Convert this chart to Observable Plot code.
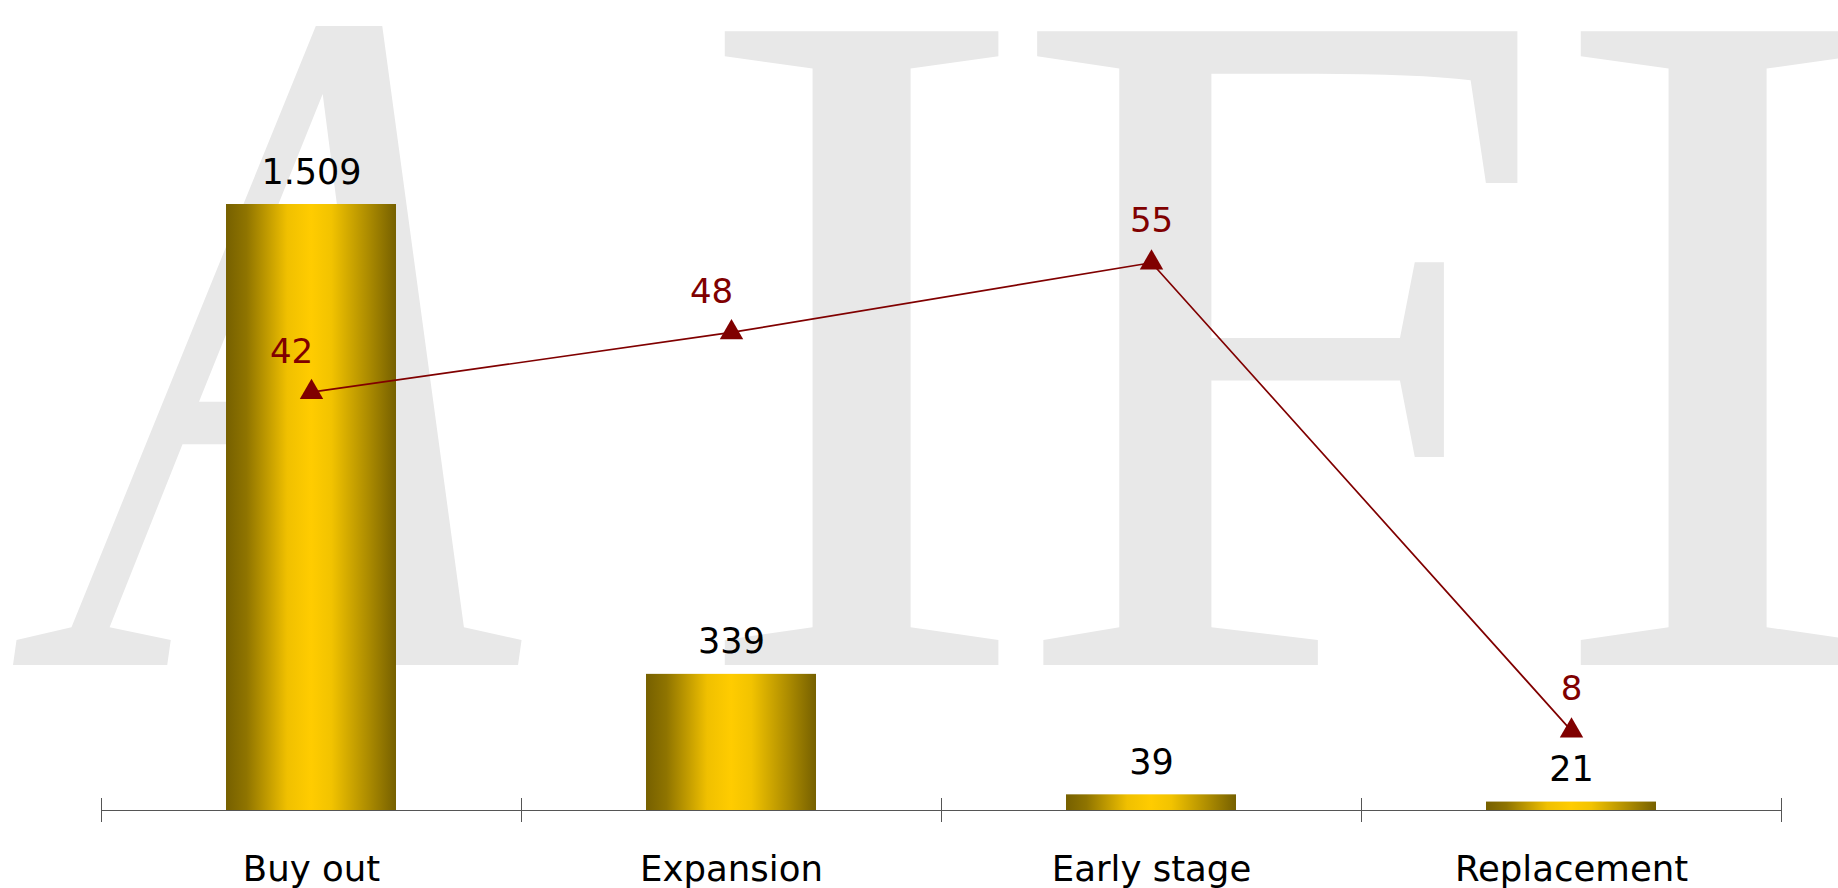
<!DOCTYPE html>
<html><head><meta charset="utf-8">
<script src="https://cdn.jsdelivr.net/npm/d3@7"></script>
<script src="https://cdn.jsdelivr.net/npm/@observablehq/plot@0.6"></script>
<style>
body{margin:0;background:#fff;}
#wrap{position:relative;width:1838px;height:888px;overflow:hidden;background:#fff;}
#wm{position:absolute;left:0;top:0;}
#chart{position:absolute;left:0;top:0;}
</style></head><body>
<div id="wrap"><svg id="wm" width="1838" height="888"></svg><div id="chart"></div></div>
<script>
// ---- data ----
const categories = ["Buy out", "Expansion", "Early stage", "Replacement"];
const barValues = [1509, 339, 39, 21];
const lineValues = [42, 48, 55, 8];
const watermarkLetters = ["A", "I", "F", "I"];

// ---- layout ----
const W = 1838, H = 888, ML = 101, MR = 57, MT = 0, MB = 78;
const step = (W - ML - MR) / categories.length;
const lineScale = 24.8; // secondary series mapped onto the bar axis
const font = "'DejaVu Sans', Verdana, sans-serif";

// watermark (decorative background)
const wmLayout = [
  {x: 6, sx: 0.74, skew: -8},
  {x: 687, sx: 1.08, skew: 0},
  {x: 1009, sx: 1.01, skew: 0},
  {x: 1543, sx: 1.08, skew: 0}
];
const wm = d3.select("#wm");
watermarkLetters.forEach((ch, i) => {
  const L = wmLayout[i];
  wm.append("text")
    .attr("transform", `translate(${L.x},665) skewX(${L.skew}) scale(${L.sx},1)`)
    .attr("font-family", "'Liberation Serif', 'Times New Roman', serif")
    .attr("font-size", 968)
    .attr("fill", "#e8e8e8")
    .text(ch);
});

const fmt = d3.formatLocale({decimal: ",", thousands: ".", grouping: [3], currency: ["€", ""]}).format(",d");
const bars = categories.map((c, i) => ({cat: c, value: barValues[i]}));
const pts = categories.map((c, i) => ({cat: c, value: lineValues[i], next: lineValues[i + 1]}));
const rising = d => d.next != null && d.next > d.value;

const plot = Plot.plot({
  width: W, height: H,
  marginLeft: ML, marginRight: MR, marginTop: MT, marginBottom: MB,
  style: {background: "transparent", fontFamily: font, overflow: "visible"},
  x: {type: "band", domain: categories, padding: 0},
  y: {domain: [0, 2017], axis: null},
  marks: [
    Plot.barY(bars, {x: "cat", y: "value", fill: "url(#barGrad)", insetLeft: 125, insetRight: 125}),
    Plot.ruleY([0], {stroke: "#555", strokeWidth: 1.2}),
    Plot.ruleX(categories, {x: d => d, y1: 0, y2: 0, insetTop: -12, insetBottom: -12, dx: -step / 2, stroke: "#555"}),
    Plot.ruleX(categories.slice(-1), {x: d => d, y1: 0, y2: 0, insetTop: -12, insetBottom: -12, dx: step / 2, stroke: "#555"}),
    Plot.axisX({tickSize: 0, tickPadding: 45, fontSize: 35.5, color: "#000", fill: "#000", label: null}),
    Plot.text(bars, {x: "cat", y: "value", text: d => fmt(d.value), lineAnchor: "bottom", dy: -21, fontSize: 35, fill: "#000"}),
    Plot.line(pts, {x: "cat", y: d => d.value * lineScale, stroke: "#800000", strokeWidth: 1.7}),
    Plot.dot(pts, {x: "cat", y: d => d.value * lineScale, symbol: "triangle", r: 8.7, fill: "#800000", stroke: "none"}),
    Plot.text(pts, {filter: rising, x: "cat", y: d => d.value * lineScale, text: d => fmt(d.value), lineAnchor: "bottom", dy: -29, dx: -20, fontSize: 34, fill: "#800000"}),
    Plot.text(pts, {filter: d => !rising(d), x: "cat", y: d => d.value * lineScale, text: d => fmt(d.value), lineAnchor: "bottom", dy: -31, fontSize: 34, fill: "#800000"})
  ]
});

const svg = plot.tagName.toLowerCase() === "svg" ? plot : plot.querySelector("svg");
const defs = d3.select(svg).insert("defs", ":first-child");
const g = defs.append("linearGradient").attr("id", "barGrad").attr("x1", 0).attr("x2", 1).attr("y1", 0).attr("y2", 0);
[[0, "#766000"], [0.12, "#8f7400"], [0.36, "#f0c000"], [0.5, "#ffcc00"], [0.62, "#f2c300"], [0.85, "#a88800"], [1, "#766000"]]
  .forEach(([o, c]) => g.append("stop").attr("offset", o).attr("stop-color", c));
document.getElementById("chart").appendChild(plot);
</script>
</body></html>
